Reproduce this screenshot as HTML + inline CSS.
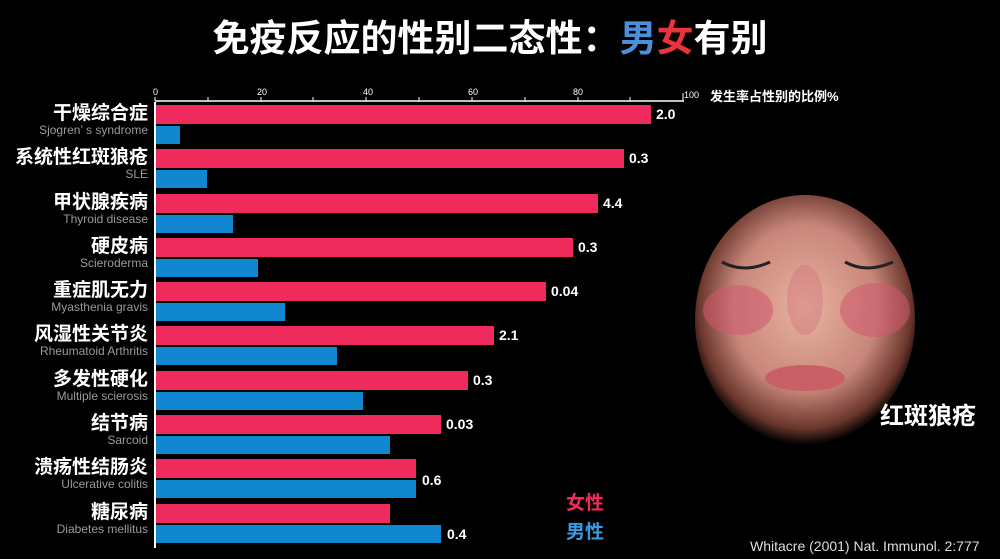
<!DOCTYPE html><html><head><meta charset="utf-8"><style>
body{margin:0;width:1000px;height:559px;background:#000;overflow:hidden;position:relative;font-family:"Liberation Sans","Noto Sans CJK SC",sans-serif;color:#fff}
.t{position:absolute;white-space:nowrap}
.f{position:absolute;left:156px;height:19px;background:#ef2b5e}
.m{position:absolute;left:156px;height:18px;background:#1187d0}
.cn{position:absolute;right:852px;font-size:19px;line-height:20px;font-weight:bold;white-space:nowrap}
.en{position:absolute;right:852px;font-size:12px;line-height:13px;color:#9a9a9a;white-space:nowrap}
.v{position:absolute;font-size:14px;line-height:18px;font-weight:bold}
</style></head><body>
<div class="t" style="left:0;width:980px;text-align:center;top:16px;font-size:37px;line-height:46px;font-weight:bold">免疫反应的性别二态性：<span style="color:#4a8fd8">男</span><span style="color:#e8343c">女</span>有别</div>
<svg style="position:absolute;left:0;top:0" width="1000" height="559">
<line x1="155" y1="102" x2="155" y2="548" stroke="#fff" stroke-width="2"/>
<line x1="155" y1="101" x2="684" y2="101" stroke="#fff" stroke-width="1.5"/>
<g stroke="#fff" stroke-width="1">
<line x1="155" y1="97" x2="155" y2="101"/><line x1="208" y1="97" x2="208" y2="101"/><line x1="261" y1="97" x2="261" y2="101"/><line x1="313" y1="97" x2="313" y2="101"/><line x1="366" y1="97" x2="366" y2="101"/><line x1="419" y1="97" x2="419" y2="101"/><line x1="472" y1="97" x2="472" y2="101"/><line x1="525" y1="97" x2="525" y2="101"/><line x1="578" y1="97" x2="578" y2="101"/><line x1="630" y1="97" x2="630" y2="101"/><line x1="683" y1="93" x2="683" y2="101"/></g>
<g fill="#fff" font-size="9" font-family="Liberation Sans"><text x="153" y="95">0</text><text x="257" y="95">20</text><text x="363" y="95">40</text><text x="468" y="95">60</text><text x="573" y="95">80</text><text x="684" y="98">100</text></g>
<defs><radialGradient id="g" cx="50%" cy="45%" r="55%"><stop offset="0" stop-color="#e8b3a0"/><stop offset="0.6" stop-color="#c8867a"/><stop offset="0.88" stop-color="#6a362c"/><stop offset="1" stop-color="#000"/></radialGradient></defs>
<ellipse cx="805" cy="320" rx="110" ry="125" fill="url(#g)"/>
<ellipse cx="738" cy="310" rx="35" ry="25" fill="#d05870" opacity=".55"/><ellipse cx="875" cy="310" rx="35" ry="27" fill="#d05870" opacity=".55"/>
<ellipse cx="805" cy="300" rx="18" ry="35" fill="#d06878" opacity=".35"/>
<path d="M722 262 q22 12 48 0" stroke="#222" stroke-width="3" fill="none"/><path d="M845 262 q22 12 48 0" stroke="#222" stroke-width="3" fill="none"/>
<ellipse cx="805" cy="378" rx="40" ry="13" fill="#c96068"/>
</svg>
<div class="t" style="left:710px;top:86px;font-size:13px;font-weight:bold">发生率占性别的比例%</div>
<div class="t" style="left:880px;top:402px;font-size:24px;line-height:30px;font-weight:bold">红斑狼疮</div>

<div class="cn" style="top:104px">干燥综合症</div><div class="en" style="top:124px">Sjogren’ s syndrome</div>
<div class="f" style="top:105px;width:495px"></div><div class="m" style="top:126px;width:24px"></div><div class="v" style="left:656px;top:105px">2.0</div>
<div class="cn" style="top:148px">系统性红斑狼疮</div><div class="en" style="top:168px">SLE</div>
<div class="f" style="top:149px;width:468px"></div><div class="m" style="top:170px;width:51px"></div><div class="v" style="left:629px;top:149px">0.3</div>
<div class="cn" style="top:193px">甲状腺疾病</div><div class="en" style="top:213px">Thyroid disease</div>
<div class="f" style="top:194px;width:442px"></div><div class="m" style="top:215px;width:77px"></div><div class="v" style="left:603px;top:194px">4.4</div>
<div class="cn" style="top:237px">硬皮病</div><div class="en" style="top:257px">Scieroderma</div>
<div class="f" style="top:238px;width:417px"></div><div class="m" style="top:259px;width:102px"></div><div class="v" style="left:578px;top:238px">0.3</div>
<div class="cn" style="top:281px">重症肌无力</div><div class="en" style="top:301px">Myasthenia gravis</div>
<div class="f" style="top:282px;width:390px"></div><div class="m" style="top:303px;width:129px"></div><div class="v" style="left:551px;top:282px">0.04</div>
<div class="cn" style="top:325px">风湿性关节炎</div><div class="en" style="top:345px">Rheumatoid Arthritis</div>
<div class="f" style="top:326px;width:338px"></div><div class="m" style="top:347px;width:181px"></div><div class="v" style="left:499px;top:326px">2.1</div>
<div class="cn" style="top:370px">多发性硬化</div><div class="en" style="top:390px">Multiple scierosis</div>
<div class="f" style="top:371px;width:312px"></div><div class="m" style="top:392px;width:207px"></div><div class="v" style="left:473px;top:371px">0.3</div>
<div class="cn" style="top:414px">结节病</div><div class="en" style="top:434px">Sarcoid</div>
<div class="f" style="top:415px;width:285px"></div><div class="m" style="top:436px;width:234px"></div><div class="v" style="left:446px;top:415px">0.03</div>
<div class="cn" style="top:458px">溃疡性结肠炎</div><div class="en" style="top:478px">Ulcerative colitis</div>
<div class="f" style="top:459px;width:260px"></div><div class="m" style="top:480px;width:260px"></div><div class="v" style="left:422px;top:471px">0.6</div>
<div class="cn" style="top:503px">糖尿病</div><div class="en" style="top:523px">Diabetes mellitus</div>
<div class="f" style="top:504px;width:234px"></div><div class="m" style="top:525px;width:285px"></div><div class="v" style="left:447px;top:525px">0.4</div>

<div class="t" style="left:566px;top:488px;font-size:19px;font-weight:bold;color:#ef2b5e">女性</div>
<div class="t" style="left:566px;top:517px;font-size:19px;font-weight:bold;color:#3a9be0">男性</div>
<div class="t" style="left:750px;top:538px;font-size:14px;color:#ddd">Whitacre (2001) Nat. Immunol. 2:777</div>
</body></html>
